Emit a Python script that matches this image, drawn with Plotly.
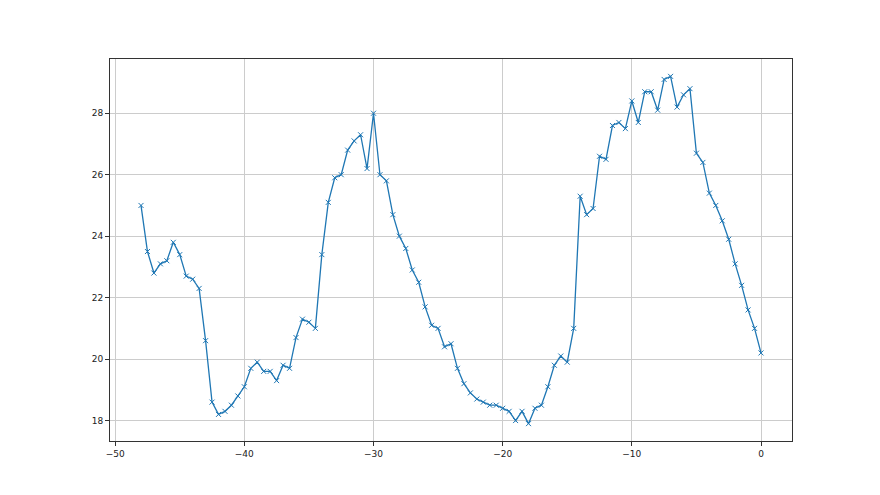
import plotly.graph_objects as go
import numpy as np

# hours relative to now
x_hours = [
    -48.0, -47.5, -47.0, -46.5, -46.0, -45.5, -45.0, -44.5, -44.0, -43.5,
    -43.0, -42.5, -42.0, -41.5, -41.0, -40.5, -40.0, -39.5, -39.0, -38.5,
    -38.0, -37.5, -37.0, -36.5, -36.0, -35.5, -35.0, -34.5, -34.0, -33.5,
    -33.0, -32.5, -32.0, -31.5, -31.0, -30.5, -30.0, -29.5, -29.0, -28.5,
    -28.0, -27.5, -27.0, -26.5, -26.0, -25.5, -25.0, -24.5, -24.0, -23.5,
    -23.0, -22.5, -22.0, -21.5, -21.0, -20.5, -20.0, -19.5, -19.0, -18.5,
    -18.0, -17.5, -17.0, -16.5, -16.0, -15.5, -15.0, -14.5, -14.0, -13.5,
    -13.0, -12.5, -12.0, -11.5, -11.0, -10.5, -10.0, -9.5, -9.0, -8.5,
    -8.0, -7.5, -7.0, -6.5, -6.0, -5.5, -5.0, -4.5, -4.0, -3.5,
    -3.0, -2.5, -2.0, -1.5, -1.0, -0.5, 0.0,
]

values = [
    25.0, 23.5, 22.8, 23.1, 23.2, 23.8, 23.4, 22.7, 22.6, 22.3,
    20.6, 18.6, 18.2, 18.3, 18.5, 18.8, 19.1, 19.7, 19.9, 19.6,
    19.6, 19.3, 19.8, 19.7, 20.7, 21.3, 21.2, 21.0, 23.4, 25.1,
    25.9, 26.0, 26.8, 27.1, 27.3, 26.2, 28.0, 26.0, 25.8, 24.7,
    24.0, 23.6, 22.9, 22.5, 21.7, 21.1, 21.0, 20.4, 20.5, 19.7,
    19.2, 18.9, 18.7, 18.6, 18.5, 18.5, 18.4, 18.3, 18.0, 18.3,
    17.9, 18.4, 18.5, 19.1, 19.8, 20.1, 19.9, 21.0, 25.3, 24.7,
    24.9, 26.6, 26.5, 27.6, 27.7, 27.5, 28.4, 27.7, 28.7, 28.7,
    28.1, 29.1, 29.2, 28.2, 28.6, 28.8, 26.7, 26.4, 25.4, 25.0,
    24.5, 23.9, 23.1, 22.4, 21.6, 21.0, 20.2,
]

x_ticks = [-50, -40, -30, -20, -10, 0]
y_ticks = [18, 20, 22, 24, 26, 28]

fig = go.Figure()

fig.add_trace(go.Scatter(
    x=x_hours,
    y=values,
    mode="lines+markers",
    line=dict(color="#1f77b4", width=1.3),
    marker=dict(symbol="x-thin", size=5, line=dict(color="#1f77b4", width=1)),
    showlegend=False,
))

# matplotlib-style 5% margins
xmin, xmax = min(x_hours), max(x_hours)
ymin, ymax = min(values), max(values)
xpad = 0.05 * (xmax - xmin)
ypad = 0.05 * (ymax - ymin)

axis_style = dict(
    showgrid=True,
    gridcolor="#cccccc",
    gridwidth=1,
    showline=True,
    linecolor="#333333",
    linewidth=1,
    mirror=True,
    ticks="outside",
    ticklen=4,
    tickcolor="#333333",
    zeroline=False,
    automargin=False,
    tickfont=dict(family="DejaVu Sans", size=9, color="#222222"),
)

# page body has an 8px margin, so the figure is shrunk to fit the window
fig.update_layout(
    width=864,
    height=479,
    margin=dict(l=102, r=80, t=51, b=46),
    paper_bgcolor="white",
    plot_bgcolor="white",
    xaxis=dict(range=[xmin - xpad, xmax + xpad], tickvals=x_ticks,
               ticktext=["\u2212" + str(abs(v)) if v < 0 else str(v) for v in x_ticks],
               **axis_style),
    yaxis=dict(range=[ymin - ypad, ymax + ypad], tickvals=y_ticks, **axis_style),
)

fig.write_html("out.html")
